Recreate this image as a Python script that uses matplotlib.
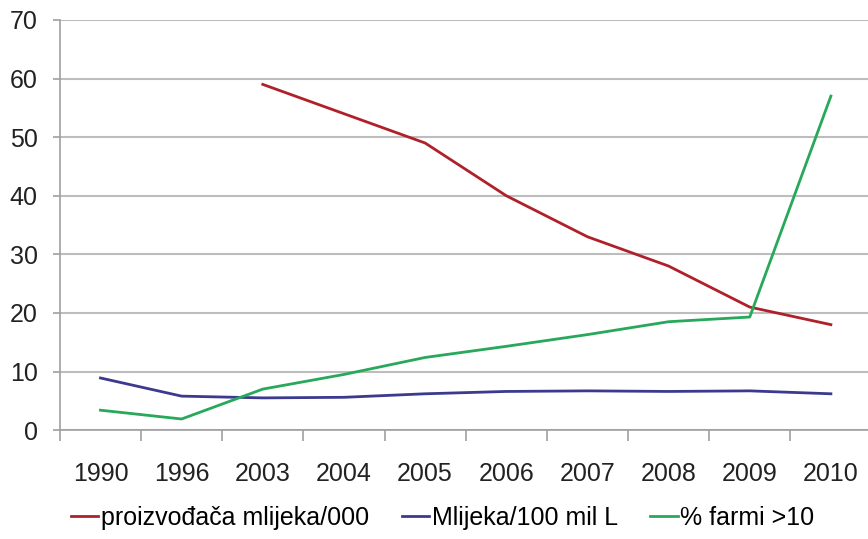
import matplotlib.pyplot as plt
import numpy as np

plt.rcParams['font.family'] = ['Liberation Sans', 'DejaVu Sans']

years = ['1990', '1996', '2003', '2004', '2005', '2006', '2007', '2008', '2009', '2010']
proizvodaca = [np.nan, np.nan, 59, 54, 49, 40, 33, 28, 21, 18]
mlijeka = [8.9, 5.8, 5.5, 5.6, 6.2, 6.6, 6.7, 6.6, 6.7, 6.2]
farmi = [3.4, 1.9, 7.0, 9.5, 12.4, 14.3, 16.3, 18.5, 19.3, 57]

labels = ['proizvođača mlijeka/000', 'Mlijeka/100 mil L', '% farmi >10']
colors = ['#B0202A', '#3B3A8E', '#27A85A']

fig = plt.figure(figsize=(8.68, 5.39), dpi=100)
ax = fig.add_axes([0.069, 0.202, 0.935, 0.761])

x = np.arange(len(years))
for vals, lab, c in zip([proizvodaca, mlijeka, farmi], labels, colors):
    ax.plot(x, vals, color=c, lw=2.0, label=lab, solid_joinstyle='round')

ax.set_xlim(-0.5, len(years) - 0.5)
ax.set_ylim(0, 70)
ax.set_yticks(range(0, 71, 10))
ax.yaxis.grid(True, color='#BDBDBD', lw=1.5)
ax.set_axisbelow(True)

ax.set_xticks(x)
ax.set_xticklabels(years)
ax.set_xticks(np.arange(-0.5, len(years) - 0.5, 1), minor=True)
ax.tick_params(axis='x', which='major', length=0, pad=23, labelsize=18, colors='#222222')
ax.tick_params(axis='x', which='minor', length=8, width=1.2, color='#A0A0A0')
ax.tick_params(axis='y', length=5, width=1.2, color='#A0A0A0', pad=11, labelsize=18, labelcolor='#222222')

for s in ['top', 'right']:
    ax.spines[s].set_visible(False)
for s in ['left', 'bottom']:
    ax.spines[s].set_color('#A0A0A0')
    ax.spines[s].set_linewidth(1.2)

fig.legend(loc='lower center', bbox_to_anchor=(0.51, -0.025), ncol=3, frameon=False,
           fontsize=18, handlelength=1.1, handletextpad=0.1, columnspacing=1.3)

fig.savefig('out.png', dpi=100)
